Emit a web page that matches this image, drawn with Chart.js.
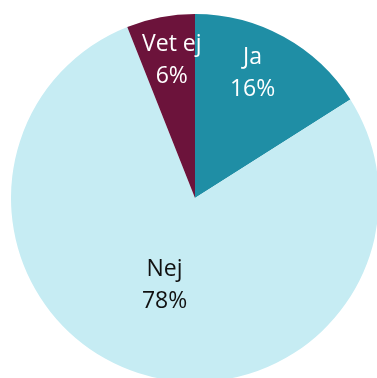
<!DOCTYPE html>
<html>
<head>
<meta charset="utf-8">
<script src="https://cdn.jsdelivr.net/npm/chart.js@4"></script>
<style>
  html, body { margin: 0; padding: 0; background: #fff; overflow: hidden; width: 377px; height: 378px; }
  #wrap { position: relative; width: 377px; height: 378px; overflow: hidden; }
  #pie { position: absolute; left: 11px; top: 14px; }
</style>
</head>
<body>
<div id="wrap"><canvas id="pie" width="368" height="368"></canvas></div>
<script>
// answers and their share of respondents (%)
const categories = ["Ja", "Nej", "Vet ej"];
const shares = [16, 78, 6];

const sliceColors = ["#1f8ea5", "#c6ecf3", "#6c133b"];
const labelColors = ["#ffffff", "#111111", "#ffffff"];
// where each label sits: fraction of radius, then a small nudge in px
const labelRadius = [0.74, 0.5, 0.76];
const labelNudge = [[-8, -5], [-2, 0], [3, 0]];

// writes "name" and "xx%" inside each slice
const sliceLabels = {
  id: 'sliceLabels',
  afterDatasetsDraw(chart) {
    const ctx = chart.ctx;
    const meta = chart.getDatasetMeta(0);
    ctx.save();
    ctx.font = '23px "Open Sans", "Noto Sans", sans-serif';
    ctx.textAlign = 'center';
    ctx.textBaseline = 'middle';
    meta.data.forEach((arc, i) => {
      const p = arc.getProps(['x', 'y', 'startAngle', 'endAngle', 'outerRadius'], true);
      const mid = (p.startAngle + p.endAngle) / 2;
      const r = p.outerRadius * labelRadius[i];
      const x = p.x + Math.cos(mid) * r + labelNudge[i][0];
      const y = p.y + Math.sin(mid) * r + labelNudge[i][1];
      ctx.fillStyle = labelColors[i];
      ctx.fillText(categories[i], x, y - 16);
      ctx.fillText(shares[i] + '%', x, y + 16);
    });
    ctx.restore();
  }
};

new Chart(document.getElementById('pie'), {
  type: 'pie',
  data: {
    labels: categories,
    datasets: [{
      data: shares,
      backgroundColor: sliceColors,
      borderWidth: 0
    }]
  },
  options: {
    responsive: false,
    animation: false,
    layout: { padding: 0 },
    plugins: {
      legend: { display: false },
      tooltip: { enabled: false }
    }
  },
  plugins: [sliceLabels]
});
</script>
</body>
</html>
